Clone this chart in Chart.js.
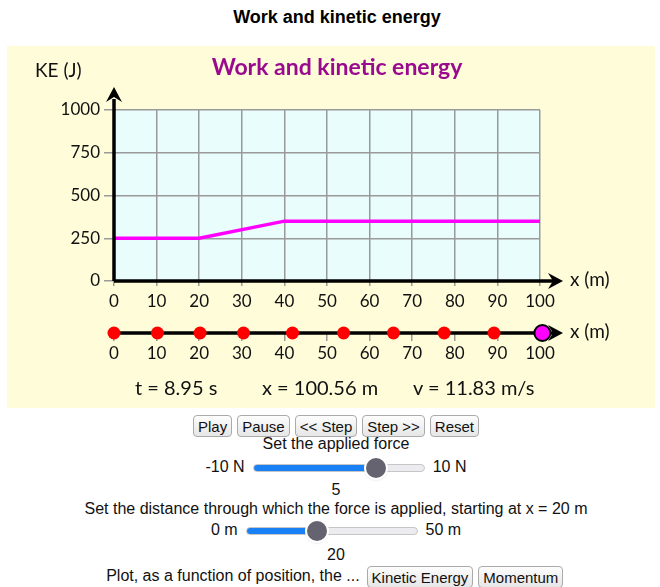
<!DOCTYPE html>
<html>
<head>
<meta charset="utf-8">
<script src="https://cdn.jsdelivr.net/npm/chart.js@4.4.0/dist/chart.umd.min.js"></script>
<style>
body { margin: 0; background: #fff; font-family: "Liberation Sans", Arial, sans-serif; }
#page { position: relative; width: 660px; height: 587px; overflow: hidden; }
#top { position: absolute; left: 0; width: 674px; top: 6px; text-align: center; font-weight: bold; font-size: 18px; line-height: 22px; }
#panel { position: absolute; left: 7px; top: 46px; width: 648px; height: 362px; background: #fefcd9; }
#c1 { position: absolute; left: 0; top: 0; }
#c2 { position: absolute; left: 0; top: 269px; }
.readout { position: absolute; top: 329px; font-family: Lato, sans-serif; font-size: 20px; line-height: 24px; color: #111; white-space: nowrap; }
.row { position: absolute; left: 0; width: 672px; text-align: center; font-size: 16px; line-height: 18px; white-space: nowrap; color: #111; }
button { font-family: "Liberation Sans", Arial, sans-serif; font-size: 15px; padding: 0 4px; margin: 0 2.5px; height: 22px;
  border: 1px solid #aaa; border-radius: 4px; background: linear-gradient(#fdfdfd, #e6e6e6); color: #111; vertical-align: middle; }
input[type=range] { -webkit-appearance: none; appearance: none; height: 6px; border-radius: 4px; border: 1px solid #c6c6c6;
  margin: 0 8px; vertical-align: middle; position: relative; top: 0; }
input[type=range]::-webkit-slider-thumb { -webkit-appearance: none; width: 20px; height: 20px; border-radius: 50%;
  background: #64636f; box-shadow: 0 0 0 2px #fff, 0 1px 3px rgba(0,0,0,0.45); }
</style>
</head>
<body>
<div id="page">
  <div id="top">Work and kinetic energy</div>
  <div id="panel">
    <canvas id="c1" width="648" height="270"></canvas>
    <canvas id="c2" width="648" height="62"></canvas>
    <div class="readout" style="left:128px">t = 8.95 s</div>
    <div class="readout" style="left:255px">x = 100.56 m</div>
    <div class="readout" style="left:406px">v = 11.83 m/s</div>
  </div>
  <div class="row" style="top:415px"><button>Play</button><button>Pause</button><button>&lt;&lt; Step</button><button>Step &gt;&gt;</button><button>Reset</button></div>
  <div class="row" style="top:435px">Set the applied force</div>
  <div class="row" style="top:458px">-10 N<input type="range" min="-10" max="10" value="5" style="width:170px;background:linear-gradient(to right,#1a80f5 0 69%,#ebebf0 69% 100%)">10 N</div>
  <div class="row" style="top:481px">5</div>
  <div class="row" style="top:500px">Set the distance through which the force is applied, starting at x = 20 m</div>
  <div class="row" style="top:521px">0 m<input type="range" min="0" max="50" value="20" style="width:170px;background:linear-gradient(to right,#1a80f5 0 42%,#ebebf0 42% 100%)">50 m</div>
  <div class="row" style="top:546px">20</div>
  <div class="row" style="top:566px">Plot, as a function of position, the ... <button>Kinetic Energy</button><button>Momentum</button></div>
</div>
<script>
// KE graph
var xPositions = [0, 20, 40, 100];
var keValues = [250, 250, 350, 350];
// number line: positions of the object at equal time steps
var dotPositions = [0, 10.2, 20.2, 30.4, 41.9, 53.9, 65.6, 77.5, 89.2];
var currentX = 100.56;

var tickFont = { family: 'Lato', size: 17 };

function arrowUp(ctx, x, y) {
	ctx.beginPath();
	ctx.moveTo(x, y);
	ctx.lineTo(x + 8, y + 15);
	ctx.lineTo(x, y + 10);
	ctx.lineTo(x - 8, y + 15);
	ctx.closePath();
	ctx.fill();
}

function arrowRight(ctx, x, y) {
	ctx.beginPath();
	ctx.moveTo(x, y);
	ctx.lineTo(x - 15, y - 8);
	ctx.lineTo(x - 10, y);
	ctx.lineTo(x - 15, y + 8);
	ctx.closePath();
	ctx.fill();
}

var keDecor = {
	id: 'keDecor',
	beforeDraw: function(chart) {
		var ctx = chart.ctx, a = chart.chartArea;
		ctx.save();
		ctx.fillStyle = '#e9fdfd';
		ctx.fillRect(a.left, a.top, a.right - a.left, a.bottom - a.top);
		ctx.restore();
	},
	afterDraw: function(chart) {
		var ctx = chart.ctx, a = chart.chartArea;
		ctx.save();
		ctx.strokeStyle = '#000';
		ctx.fillStyle = '#000';
		ctx.lineWidth = 3.5;
		ctx.beginPath();
		ctx.moveTo(a.left, a.bottom);
		ctx.lineTo(a.left, 53);
		ctx.moveTo(a.left, a.bottom);
		ctx.lineTo(546, a.bottom);
		ctx.stroke();
		arrowUp(ctx, a.left, 41);
		arrowRight(ctx, 556, a.bottom);

		ctx.font = '19px Lato';
		ctx.textBaseline = 'middle';
		ctx.fillStyle = '#111';
		ctx.fillText('x (m)', 563, a.bottom - 1);
		ctx.fillText('KE (J)', 28, 25);

		ctx.font = 'bold 23px Lato';
		ctx.textAlign = 'center';
		ctx.fillStyle = '#990a8f';
		ctx.fillText('Work and kinetic energy', 330, 22);
		ctx.restore();
	}
};

new Chart('c1', {
	type: 'line',
	data: {
		datasets: [{
			data: xPositions.map(function(x, i) { return { x: x, y: keValues[i] }; }),
			borderColor: '#ff00ff',
			borderWidth: 3.5,
			pointRadius: 0,
			tension: 0
		}]
	},
	options: {
		responsive: false,
		animation: false,
		layout: { padding: { top: 64, right: 115, left: 0, bottom: 0 } },
		plugins: { legend: { display: false }, tooltip: { enabled: false } },
		scales: {
			x: {
				type: 'linear', min: 0, max: 100,
				ticks: { stepSize: 10, font: tickFont, color: '#111', padding: 5 },
				grid: { color: '#9a9a9a', lineWidth: 1.5, tickLength: 5 },
				border: { display: false },
				afterFit: function(s) { s.height = 35; }
			},
			y: {
				min: 0, max: 1000,
				ticks: { stepSize: 250, font: tickFont, color: '#111', padding: 4,
					callback: function(v) { return String(v); } },
				grid: { color: '#9a9a9a', lineWidth: 1.5, tickLength: 10 },
				border: { display: false },
				afterFit: function(s) { s.width = 107; }
			}
		}
	},
	plugins: [keDecor]
});

var lineDecor = {
	id: 'lineDecor',
	beforeDatasetsDraw: function(chart) {
		var ctx = chart.ctx, a = chart.chartArea;
		ctx.save();
		ctx.strokeStyle = '#000';
		ctx.fillStyle = '#000';
		ctx.lineWidth = 3.5;
		ctx.beginPath();
		ctx.moveTo(a.left - 4, a.bottom);
		ctx.lineTo(546, a.bottom);
		ctx.stroke();
		arrowRight(ctx, 556, a.bottom);
		ctx.font = '19px Lato';
		ctx.textBaseline = 'middle';
		ctx.fillStyle = '#111';
		ctx.fillText('x (m)', 563, a.bottom - 1);
		ctx.restore();
	}
};

new Chart('c2', {
	type: 'scatter',
	data: {
		datasets: [{
			data: [{ x: currentX, y: 0 }],
			backgroundColor: '#ff00ff',
			borderColor: '#000',
			borderWidth: 2,
			pointRadius: 8,
			clip: false,
			order: 0
		}, {
			data: dotPositions.map(function(x) { return { x: x, y: 0 }; }),
			backgroundColor: '#ff0000',
			borderWidth: 0,
			pointRadius: 6.5,
			clip: false,
			order: 1
		}]
	},
	options: {
		responsive: false,
		animation: false,
		layout: { padding: { top: 10, right: 115, left: 107, bottom: 0 } },
		plugins: { legend: { display: false }, tooltip: { enabled: false } },
		scales: {
			x: {
				type: 'linear', min: 0, max: 100,
				ticks: { stepSize: 10, font: tickFont, color: '#111', padding: 2 },
				grid: { drawOnChartArea: false, color: '#9a9a9a', lineWidth: 1.5, tickLength: 8 },
				border: { display: false },
				afterFit: function(s) { s.height = 44; }
			},
			y: { display: false, min: 0, max: 1 }
		}
	},
	plugins: [lineDecor]
});
</script>
</body>
</html>
